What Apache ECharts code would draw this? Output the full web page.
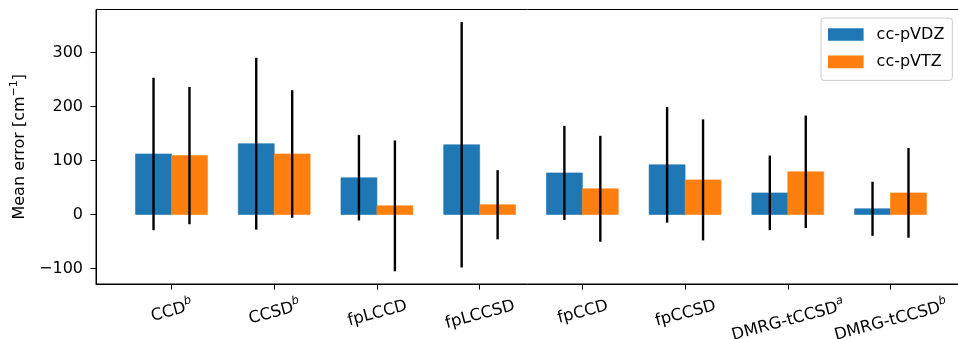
<!DOCTYPE html>
<html>
<head>
<meta charset="utf-8">
<script src="https://cdn.jsdelivr.net/npm/echarts@6/dist/echarts.min.js"></script>
<style>
  html, body { margin: 0; padding: 0; background: #fff; }
  #chart { width: 958px; height: 339px; }
</style>
</head>
<body>
<div id="chart"></div>
<script>
// method names, superscript marks on the tick labels
const CATEGORIES = ['CCD', 'CCSD', 'fpLCCD', 'fpLCCSD', 'fpCCD', 'fpCCSD', 'DMRG-tCCSD', 'DMRG-tCCSD']
const CATEGORY_SUPS = ['b', 'b', '', '', '', '', 'a', 'b']

// mean error and its spread (cm^-1)
const VDZ_MEAN = [112, 131, 68, 129, 77, 92, 40, 10.6]
const VDZ_ERR = [141, 159, 79, 227, 87, 107, 69, 50]
const VTZ_MEAN = [109, 112, 16, 18, 47.6, 64, 79, 40]
const VTZ_ERR = [127, 118, 121, 64, 98, 112, 104, 83]

const Y_TICKS = [-100, 0, 100, 200, 300]
const X_TICKS = CATEGORIES.map((_, i) => i)

const FONT = 'DejaVu Sans'
const BAR_W = 0.35
const LABEL_ROT = 15 * Math.PI / 180

const chart = echarts.init(document.getElementById('chart'))

// text width for the rotated tick labels (matplotlib aligns the rotated box)
const measureCtx = document.createElement('canvas').getContext('2d')
function labelWidth(main, sup) {
  measureCtx.font = `16.4px "${FONT}"`
  let w = measureCtx.measureText(main).width
  if (sup) {
    measureCtx.font = `italic 11.5px "${FONT}"`
    w += measureCtx.measureText(sup).width + 1
  }
  return w
}

function barRenderer(offset) {
  return function (params, api) {
    const i = api.value(0)
    const v = api.value(1)
    const e = api.value(2)
    const c = i + offset
    const tl = api.coord([c - BAR_W / 2, v])
    const br = api.coord([c + BAR_W / 2, 0])
    const top = api.coord([c, v + e])
    const bot = api.coord([c, v - e])
    const color = api.visual('color')
    return {
      type: 'group',
      children: [
        {
          type: 'rect',
          shape: {
            x: tl[0],
            y: Math.min(tl[1], br[1]),
            width: br[0] - tl[0],
            height: Math.abs(br[1] - tl[1]),
          },
          style: { fill: color, stroke: color, lineWidth: 0.6 },
        },
        {
          type: 'line',
          z2: 10,
          shape: { x1: top[0], y1: top[1], x2: bot[0], y2: bot[1] },
          style: { stroke: '#000', lineWidth: 2.4 },
        },
      ],
    }
  }
}

function labelRenderer(params, api) {
  const i = api.value(0)
  const x = api.coord([i, 0])[0]
  const bottom = params.coordSys.y + params.coordSys.height
  const main = CATEGORIES[i]
  const sup = CATEGORY_SUPS[i]
  const w = labelWidth(main, sup)
  const h = 19
  const cy = bottom + 10.5 + (w * Math.sin(LABEL_ROT) + h * Math.cos(LABEL_ROT)) / 2
  return {
    type: 'text',
    x: x,
    y: cy,
    rotation: LABEL_ROT,
    style: {
      text: sup ? `{n|${main}}{s|${sup}}` : `{n|${main}}`,
      align: 'center',
      verticalAlign: 'middle',
      rich: {
        n: { fontSize: 16.4, fontFamily: FONT, fill: '#000', lineHeight: 20, verticalAlign: 'bottom' },
        s: { fontSize: 11.5, fontFamily: FONT, fontStyle: 'italic', fill: '#000', lineHeight: 10, verticalAlign: 'top' },
      },
    },
  }
}

const option = {
  animation: false,
  backgroundColor: '#fff',
  grid: {
    left: 96,
    top: 9.5,
    width: 870,
    height: 274.5,
    show: true,
    borderColor: '#000',
    borderWidth: 1,
    outerBoundsMode: 'none',
  },
  legend: {
    data: ['cc-pVDZ', 'cc-pVTZ'],
    orient: 'vertical',
    left: 821,
    top: 18,
    padding: [8.5, 8, 10.5, 7],
    itemWidth: 35.6,
    itemHeight: 12.6,
    itemGap: 11.4,
    icon: 'rect',
    borderColor: '#cccccc',
    borderWidth: 1,
    borderRadius: 3,
    backgroundColor: 'rgba(255,255,255,0.8)',
    textStyle: {
      color: '#000',
      fontSize: 16,
      fontFamily: FONT,
      lineHeight: 12,
      padding: [0, 0, 0, 8],
    },
  },
  xAxis: {
    type: 'value',
    min: -0.735,
    max: 7.735,
    splitLine: { show: false },
    axisLine: { show: true, onZero: false, lineStyle: { color: '#000', width: 1 } },
    axisTick: { show: true, customValues: X_TICKS, length: 5.6, lineStyle: { color: '#000', width: 1 } },
    axisLabel: { show: false },
  },
  yAxis: {
    type: 'value',
    min: -128.6,
    max: 379.3,
    name: '{t|Mean error [cm}{sup|−1}{t|]}',
    nameLocation: 'middle',
    nameRotate: 90,
    nameGap: 58,
    nameTextStyle: {
      rich: {
        t: { fontSize: 16, fontFamily: FONT, color: '#000', lineHeight: 20, verticalAlign: 'bottom' },
        sup: { fontSize: 11, fontFamily: FONT, color: '#000', lineHeight: 10, verticalAlign: 'top' },
      },
    },
    splitLine: { show: false },
    axisLine: { show: true, onZero: false, lineStyle: { color: '#000', width: 1 } },
    axisTick: { show: true, customValues: Y_TICKS, length: 5.6, lineStyle: { color: '#000', width: 1 } },
    axisLabel: {
      customValues: Y_TICKS,
      margin: 13,
      color: '#000',
      fontSize: 16,
      fontFamily: FONT,
      formatter: (v) => (v < 0 ? '\u2212' + Math.abs(v) : String(v)),
    },
  },
  series: [
    {
      name: 'cc-pVDZ',
      type: 'custom',
      itemStyle: { color: '#1f77b4' },
      encode: { x: 0, y: 1 },
      renderItem: barRenderer(-BAR_W / 2),
      data: VDZ_MEAN.map((v, i) => [i, v, VDZ_ERR[i]]),
    },
    {
      name: 'cc-pVTZ',
      type: 'custom',
      itemStyle: { color: '#ff7f0e' },
      encode: { x: 0, y: 1 },
      renderItem: barRenderer(BAR_W / 2),
      data: VTZ_MEAN.map((v, i) => [i, v, VTZ_ERR[i]]),
    },
    {
      name: 'labels',
      type: 'custom',
      silent: true,
      clip: false,
      encode: { x: 0, y: 1 },
      renderItem: labelRenderer,
      data: CATEGORIES.map((_, i) => [i, 0]),
    },
  ],
}

chart.setOption(option)
</script>
</body>
</html>
